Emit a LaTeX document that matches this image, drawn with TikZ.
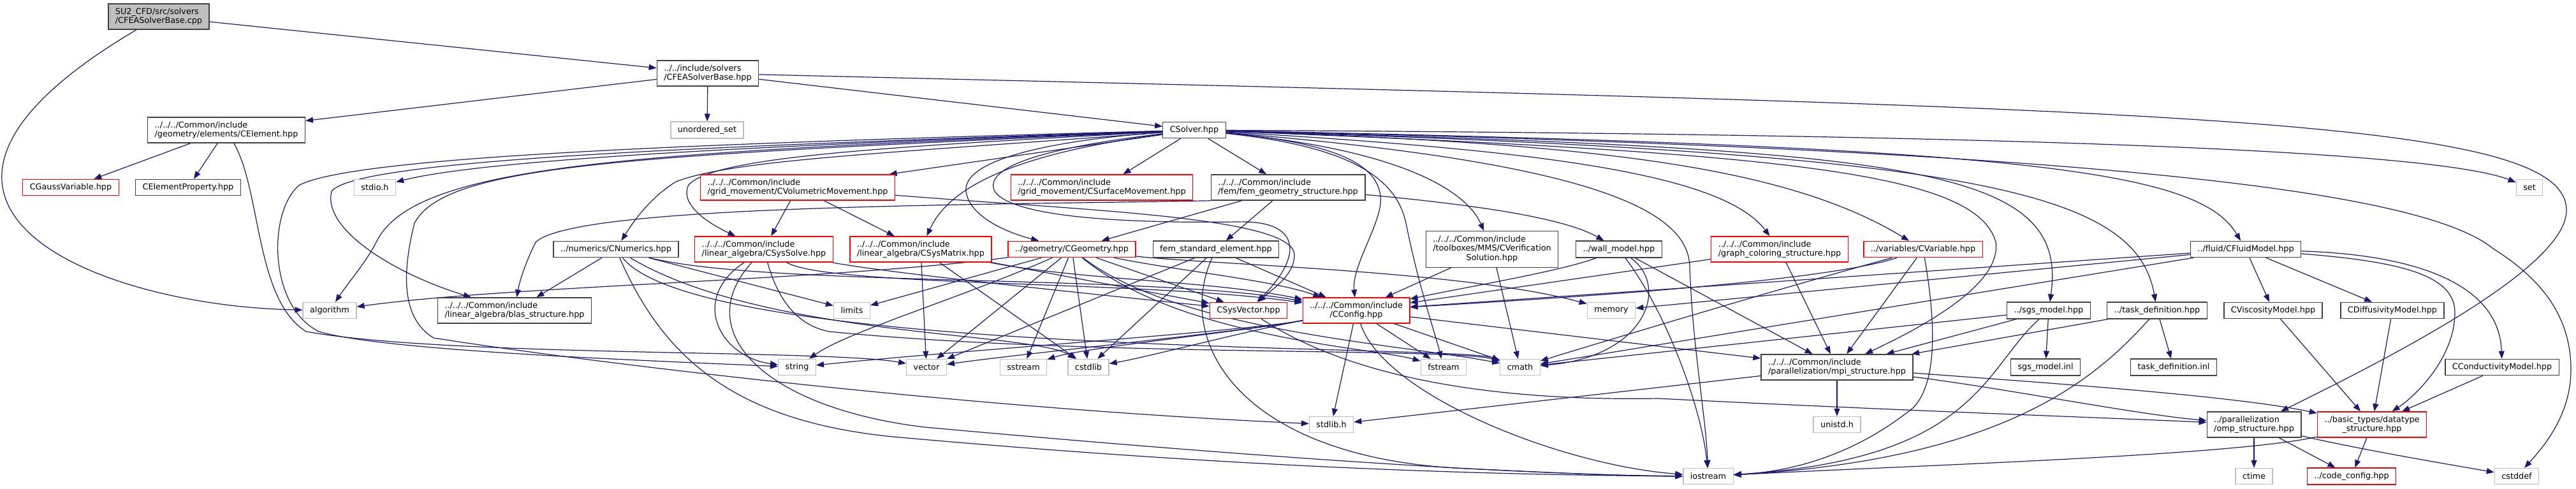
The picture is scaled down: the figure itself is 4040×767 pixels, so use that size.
\documentclass[tikz,border=0pt]{standalone}
\usepackage{fontspec}
\setmainfont{DejaVu Sans}
\usetikzlibrary{arrows.meta}
\definecolor{navyedge}{HTML}{191970}
\definecolor{ink}{HTML}{404040}
\definecolor{cut}{HTML}{FF0000}
\definecolor{pale}{HTML}{BFBFBF}
\pgfdeclarelayer{paper}\pgfdeclarelayer{wires}\pgfsetlayers{paper,wires,main}
\tikzset{hdr/.style={draw=ink,line width=1.3pt,fill=white,align=left,font=\fontsize{12.8}{14.5}\selectfont,inner xsep=11pt,inner ysep=6.5pt,minimum height=25pt}, hdrcut/.style={hdr,draw=cut}, hdrsys/.style={hdr,draw=pale}, hdrroot/.style={hdr,fill=pale}, inc/.style={-{Triangle[length=12pt,width=9pt]},line width=1.2pt,draw=navyedge}}
\begin{document}
\begin{tikzpicture}[x=1pt,y=-1pt]
\useasboundingbox (0,0) rectangle (4040,767);
\begin{pgfonlayer}{paper}\fill[white] (0,0) rectangle (4040,767);\end{pgfonlayer}
\node[hdrroot] (cpp) at (249,26) {SU2\_CFD/src/solvers\\/CFEASolverBase.cpp};
\node[hdr] (hpp) at (1110,115) {../../include/solvers\\/CFEASolverBase.hpp};
\node[hdrsys] (uset) at (1109,204) {unordered\_set};
\node[hdr] (csolver) at (1873,204) {CSolver.hpp};
\node[hdr] (celem) at (355,204) {../../../Common/include\\/geometry/elements/CElement.hpp};
\node[hdrcut] (cgauss) at (111,294) {CGaussVariable.hpp};
\node[hdr] (celemprop) at (295,294) {CElementProperty.hpp};
\node[hdrsys] (stdio) at (588,294) {stdio.h};
\node[hdrcut] (cvolmov) at (1251,294) {../../../Common/include\\/grid\_movement/CVolumetricMovement.hpp};
\node[hdrcut] (csurfmov) at (1728,294) {../../../Common/include\\/grid\_movement/CSurfaceMovement.hpp};
\node[hdr] (femgeo) at (2020,294) {../../../Common/include\\/fem/fem\_geometry\_structure.hpp};
\node[hdrsys] (set) at (3967,294) {set};
\node[hdr] (cnum) at (966,391) {../numerics/CNumerics.hpp};
\node[hdrcut] (csyssolve) at (1198,391) {../../../Common/include\\/linear\_algebra/CSysSolve.hpp};
\node[hdrcut] (csysmat) at (1444,391) {../../../Common/include\\/linear\_algebra/CSysMatrix.hpp};
\node[hdrcut] (cgeom) at (1681,391) {../geometry/CGeometry.hpp};
\node[hdr] (femstd) at (1907,391) {fem\_standard\_element.hpp};
\node[hdr] (cverif) at (2340,391) {\begin{tabular}{@{}l@{}}../../../Common/include\\/toolboxes/MMS/CVerification\\\multicolumn{1}{@{}c@{}}{Solution.hpp}\end{tabular}};
\node[hdr] (wall) at (2539,391) {../wall\_model.hpp};
\node[hdrcut] (graphcol) at (2791,391) {../../../Common/include\\/graph\_coloring\_structure.hpp};
\node[hdrcut] (cvar) at (3016,391) {../variables/CVariable.hpp};
\node[hdr] (cfluid) at (3522,391) {../fluid/CFluidModel.hpp};
\node[hdrsys] (algo) at (517,487) {algorithm};
\node[hdr] (blas) at (807,487) {../../../Common/include\\/linear\_algebra/blas\_structure.hpp};
\node[hdrsys] (limits) at (1336,487) {limits};
\node[hdrcut] (csysvec) at (1958,487) {CSysVector.hpp};
\node[hdrcut,align=center] (cconfig) at (2127,487) {../../../Common/include\\/CConfig.hpp};
\node[hdrsys] (memory) at (2527,487) {memory};
\node[hdr] (sgs) at (3213,487) {../sgs\_model.hpp};
\node[hdr] (taskdef) at (3383,487) {../task\_definition.hpp};
\node[hdr] (cvisc) at (3565,487) {CViscosityModel.hpp};
\node[hdr] (cdiff) at (3752,487) {CDiffusivityModel.hpp};
\node[hdrsys] (string) at (1250,576) {string};
\node[hdrsys] (vector) at (1453,576) {vector};
\node[hdrsys] (sstream) at (1605,576) {sstream};
\node[hdrsys] (cstdlib) at (1707,576) {cstdlib};
\node[hdrsys] (fstream) at (2264,576) {fstream};
\node[hdrsys] (cmath) at (2384,576) {cmath};
\node[hdr] (mpi) at (2881,576) {../../../Common/include\\/parallelization/mpi\_structure.hpp};
\node[hdr] (sgsinl) at (3208,576) {sgs\_model.inl};
\node[hdr] (taskinl) at (3409,576) {task\_definition.inl};
\node[hdr] (ccond) at (3924,576) {CConductivityModel.hpp};
\node[hdrsys] (stdlibh) at (2088,666) {stdlib.h};
\node[hdrsys] (unistd) at (2881,666) {unistd.h};
\node[hdr] (omp) at (3535,666) {../parallelization\\/omp\_structure.hpp};
\node[hdrcut,align=center] (datatype) at (3720,666) {../basic\_types/datatype\\\_structure.hpp};
\node[hdrsys] (iostream) at (2679,747) {iostream};
\node[hdrsys] (ctime) at (3535,747) {ctime};
\node[hdrcut] (codecfg) at (3688,747) {../code\_config.hpp};
\node[hdrsys] (cstddef) at (3947,747) {cstddef};
\begin{pgfonlayer}{wires}
\draw[inc] (cpp) -- (hpp);
\draw[inc] (cpp) .. controls (-250,320) and (150,480) .. (algo);
\draw[inc] (hpp) -- (celem);
\draw[inc] (hpp) -- (uset);
\draw[inc] (hpp) -- (csolver);
\draw[inc] (hpp) .. controls (3400,170) and (4025,180) .. (4025,330) .. controls (4025,420) and (3750,560) .. (omp);
\draw[inc] (celem) -- (cgauss);
\draw[inc] (celem) -- (celemprop);
\draw[inc] (celem) .. controls (410,300) and (400,470) .. (480,520) .. controls (700,560) and (1300,548) .. (vector);
\draw[inc] (csolver) .. controls (1200,228) and (760,250) .. (stdio);
\draw[inc] (csolver) .. controls (1000,240) and (650,255) .. (590,380) .. controls (575,410) and (545,445) .. (algo);
\draw[inc] (csolver) .. controls (1100,230) and (560,250) .. (520,300) .. controls (505,360) and (620,430) .. (blas);
\draw[inc] (csolver) .. controls (1100,225) and (560,245) .. (470,290) .. controls (420,330) and (420,480) .. (500,520) .. controls (600,550) and (1000,565) .. (string);
\draw[inc] (csolver) .. controls (1000,245) and (700,255) .. (650,350) .. controls (630,430) and (630,500) .. (680,530) .. controls (900,565) and (1500,640) .. (stdlibh);
\draw[inc] (csolver) .. controls (1400,240) and (1150,250) .. (1060,285) .. controls (1020,310) and (995,345) .. (cnum);
\draw[inc] (csolver) .. controls (1400,230) and (1120,245) .. (1080,290) .. controls (1065,320) and (1110,350) .. (csyssolve);
\draw[inc] (csolver) -- (cvolmov);
\draw[inc] (csolver) .. controls (1600,240) and (1490,290) .. (csysmat);
\draw[inc] (csolver) .. controls (1650,220) and (1510,250) .. (1515,300) .. controls (1520,340) and (1580,365) .. (cgeom);
\draw[inc] (csolver) -- (csurfmov);
\draw[inc] (csolver) -- (femgeo);
\draw[inc] (csolver) .. controls (1650,230) and (1540,260) .. (1560,300) .. controls (1590,345) and (1800,350) .. (1940,348) .. controls (2040,345) and (2045,400) .. (csysvec);
\draw[inc] (csolver) .. controls (2100,225) and (2170,260) .. (2165,320) .. controls (2160,360) and (2120,420) .. (cconfig);
\draw[inc] (csolver) .. controls (2120,230) and (2190,280) .. (2205,350) .. controls (2225,450) and (2250,520) .. (fstream);
\draw[inc] (csolver) .. controls (2200,235) and (2300,300) .. (cverif);
\draw[inc] (csolver) .. controls (2500,255) and (2650,330) .. (2650,420) .. controls (2655,550) and (2675,650) .. (iostream);
\draw[inc] (csolver) .. controls (2400,235) and (2700,270) .. (graphcol);
\draw[inc] (csolver) .. controls (2500,225) and (2800,260) .. (cvar);
\draw[inc] (csolver) .. controls (2800,240) and (3100,270) .. (3130,380) .. controls (3140,450) and (3000,520) .. (mpi);
\draw[inc] (csolver) .. controls (3000,235) and (3245,260) .. (sgs);
\draw[inc] (csolver) .. controls (3100,240) and (3350,300) .. (taskdef);
\draw[inc] (csolver) .. controls (3200,230) and (3450,270) .. (cfluid);
\draw[inc] (csolver) .. controls (3000,210) and (3800,230) .. (set);
\draw[inc] (csolver) .. controls (3300,235) and (3800,300) .. (3910,390) .. controls (3990,440) and (4032,500) .. (4032,580) .. controls (4032,650) and (3990,700) .. (cstddef);
\draw[inc] (cvolmov) -- (csyssolve);
\draw[inc] (cvolmov) -- (csysmat);
\draw[inc] (cvolmov) .. controls (1700,330) and (2030,340) .. (2030,400) .. controls (2030,430) and (2000,450) .. (csysvec);
\draw[inc] (femgeo) -- (cgeom);
\draw[inc] (femgeo) -- (femstd);
\draw[inc] (femgeo) .. controls (2300,320) and (2450,340) .. (wall);
\draw[inc] (femgeo.south west) .. controls (1500,322) and (900,322) .. (840,380) .. controls (825,410) and (815,440) .. (blas);
\draw[inc] (cnum) -- (blas);
\draw[inc] (cnum) -- (limits);
\draw[inc] (cnum) .. controls (1040,560) and (1150,660) .. (1400,685) .. controls (1900,730) and (2300,745) .. (iostream);
\draw[inc] (cnum) .. controls (1100,560) and (2280,540) .. (cmath);
\draw[inc] (cnum) .. controls (1200,450) and (1800,430) .. (cconfig);
\draw[inc] (cnum) .. controls (1200,530) and (1620,520) .. (cstdlib);
\draw[inc] (csyssolve) .. controls (1080,470) and (1130,560) .. (string);
\draw[inc] (csyssolve) .. controls (1080,520) and (1200,640) .. (1450,670) .. controls (2000,720) and (2400,745) .. (iostream);
\draw[inc] (csyssolve) .. controls (1220,470) and (1250,510) .. (1300,520) .. controls (1700,560) and (2280,545) .. (cmath);
\draw[inc] (csyssolve) .. controls (1300,450) and (1800,440) .. (cconfig);
\draw[inc] (csyssolve) .. controls (1400,430) and (1800,470) .. (csysvec);
\draw[inc] (csysmat) -- (vector);
\draw[inc] (csysmat) -- (cstdlib);
\draw[inc] (csysmat) -- (csysvec);
\draw[inc] (csysmat) .. controls (1700,440) and (1900,440) .. (cconfig);
\draw[inc] (cgeom) .. controls (1300,440) and (800,448) .. (algo);
\draw[inc] (cgeom) -- (limits);
\draw[inc] (cgeom) .. controls (1500,470) and (1330,520) .. (string);
\draw[inc] (cgeom) -- (vector);
\draw[inc] (cgeom) -- (sstream);
\draw[inc] (cgeom) -- (cstdlib);
\draw[inc] (cgeom) -- (csysvec);
\draw[inc] (cgeom) .. controls (1850,425) and (2000,440) .. (cconfig);
\draw[inc] (cgeom) .. controls (1850,520) and (2200,540) .. (cmath);
\draw[inc] (cgeom) .. controls (1850,530) and (2150,545) .. (fstream);
\draw[inc] (cgeom) .. controls (1900,415) and (2300,425) .. (memory);
\draw[inc] (femstd) -- (vector);
\draw[inc] (femstd) -- (cstdlib);
\draw[inc] (femstd) -- (cconfig);
\draw[inc] (femstd) .. controls (1840,540) and (1950,720) .. (2300,735) .. controls (2450,742) and (2550,747) .. (iostream);
\draw[inc] (cverif) -- (cconfig);
\draw[inc] (cverif) -- (cmath);
\draw[inc] (wall) .. controls (2450,425) and (2300,450) .. (cconfig);
\draw[inc] (wall) .. controls (2620,450) and (2580,560) .. (cmath);
\draw[inc] (wall) .. controls (2620,500) and (2670,650) .. (iostream);
\draw[inc] (wall) -- (mpi);
\draw[inc] (cconfig) -- (stdlibh);
\draw[inc] (cconfig) -- (fstream);
\draw[inc] (cconfig) -- (cmath);
\draw[inc] (cconfig) .. controls (2170,620) and (2450,730) .. (iostream);
\draw[inc] (cconfig) -- (mpi);
\draw[inc] (cconfig) .. controls (1950,520) and (1500,550) .. (string);
\draw[inc] (cconfig) .. controls (1950,520) and (1600,555) .. (vector);
\draw[inc] (cconfig) .. controls (1950,520) and (1700,545) .. (sstream);
\draw[inc] (cconfig) .. controls (1950,520) and (1800,560) .. (cstdlib);
\draw[inc] (graphcol) -- (mpi);
\draw[inc] (graphcol) -- (cconfig);
\draw[inc] (cvar) -- (mpi);
\draw[inc] (cvar) .. controls (2850,445) and (2400,470) .. (cconfig);
\draw[inc] (cvar) .. controls (2800,450) and (2500,540) .. (cmath);
\draw[inc] (cvar) .. controls (3035,500) and (3040,600) .. (3000,640) .. controls (2900,720) and (2800,740) .. (iostream);
\draw[inc] (sgs) -- (sgsinl);
\draw[inc] (sgs) -- (mpi);
\draw[inc] (sgs) -- (cmath);
\draw[inc] (sgs) .. controls (3110,580) and (3100,720) .. (iostream);
\draw[inc] (taskdef) -- (taskinl);
\draw[inc] (taskdef) -- (mpi);
\draw[inc] (taskdef) .. controls (3290,590) and (3150,720) .. (iostream);
\draw[inc] (cfluid) -- (cvisc);
\draw[inc] (cfluid) -- (cdiff);
\draw[inc] (cfluid) .. controls (3800,400) and (3920,450) .. (ccond);
\draw[inc] (cfluid) .. controls (3760,410) and (3850,430) .. (3850,490) .. controls (3850,560) and (3790,620) .. (datatype);
\draw[inc] (cfluid) -- (cconfig);
\draw[inc] (cfluid) -- (memory);
\draw[inc] (cfluid) -- (cmath);
\draw[inc] (cvisc) -- (datatype);
\draw[inc] (cdiff) -- (datatype);
\draw[inc] (ccond) -- (datatype);
\draw[inc] (mpi) -- (unistd);
\draw[inc] (mpi) -- (stdlibh);
\draw[inc] (mpi) .. controls (3150,610) and (3350,650) .. (omp);
\draw[inc] (mpi) .. controls (3200,600) and (3500,620) .. (datatype);
\draw[inc] (csysvec) .. controls (2100,580) and (2300,630) .. (2600,625) .. controls (3000,645) and (3300,655) .. (omp);
\draw[inc] (omp) -- (ctime);
\draw[inc] (omp) -- (codecfg);
\draw[inc] (omp) .. controls (3700,705) and (3850,730) .. (cstddef);
\draw[inc] (datatype) -- (codecfg);
\draw[inc] (datatype) .. controls (3500,715) and (3000,730) .. (iostream);
\end{pgfonlayer}
\end{tikzpicture}
\end{document}
